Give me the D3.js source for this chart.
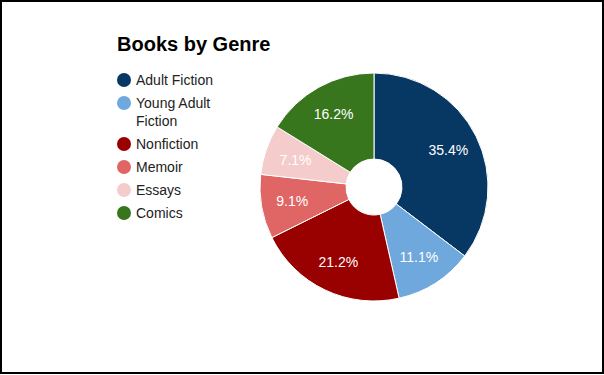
<html>
<head>
<script src="https://cdn.jsdelivr.net/npm/d3@7"></script>
<style>
body { margin: 0; background: #fff; }
svg text { font-family: Arial, "Liberation Sans", sans-serif; }
</style>
</head>
<body>
<svg id="chart" width="604" height="375"></svg>
<script>
var genres = ["Adult Fiction", "Young Adult Fiction", "Nonfiction", "Memoir", "Essays", "Comics"];
var counts = [35, 11, 21, 9, 7, 16];
var colors = ["#073763", "#6fa8dc", "#990000", "#e06666", "#f4cccc", "#38761d"];
// legend text is wrapped the way the original shows it
var legendLines = [["Adult Fiction"], ["Young Adult", "Fiction"], ["Nonfiction"], ["Memoir"], ["Essays"], ["Comics"]];

var svg = d3.select("#chart");

svg.append("rect")
    .attr("x", 1).attr("y", 1)
    .attr("width", 602).attr("height", 372)
    .attr("fill", "#fff")
    .attr("stroke", "#000")
    .attr("stroke-width", 2);

svg.append("text")
    .attr("x", 117).attr("y", 51)
    .attr("font-size", 20)
    .attr("font-weight", "bold")
    .attr("fill", "#000")
    .text("Books by Genre");

// legend
var color = d3.scaleOrdinal().domain(genres).range(colors);
var legend = svg.append("g").attr("transform", "translate(124,80)");
var rowY = 0;
legendLines.forEach(function(lines, i) {
  var row = legend.append("g").attr("transform", "translate(0," + rowY + ")");
  row.append("circle").attr("r", 7).attr("fill", color(genres[i]));
  var t = row.append("text")
      .attr("x", 12).attr("y", 5)
      .attr("font-size", 14)
      .attr("fill", "#222");
  lines.forEach(function(l, j) {
    t.append("tspan").attr("x", 12).attr("dy", j ? 18 : 0).text(l);
  });
  rowY += 23 + (lines.length - 1) * 18;
});

// donut
var cx = 374, cy = 187, outerR = 114, innerR = 28;
var total = d3.sum(counts);
var pie = d3.pie().sort(null).value(function(d) { return d; });
var arc = d3.arc().innerRadius(innerR).outerRadius(outerR);
var labelArc = d3.arc().innerRadius(83).outerRadius(83);

var g = svg.append("g").attr("transform", "translate(" + cx + "," + cy + ")");
var arcs = pie(counts);

g.selectAll("path")
    .data(arcs)
  .enter().append("path")
    .attr("d", arc)
    .attr("fill", function(d, i) { return color(genres[i]); })
    .attr("stroke", "#fff")
    .attr("stroke-width", 1);

g.selectAll("text.lbl")
    .data(arcs)
  .enter().append("text")
    .attr("class", "lbl")
    .attr("transform", function(d) { return "translate(" + labelArc.centroid(d) + ")"; })
    .attr("text-anchor", "middle")
    .attr("dy", "0.35em")
    .attr("font-size", 14)
    .attr("fill", "#fff")
    .text(function(d) { return d3.format(".1f")(d.value / total * 100) + "%"; });
</script>
</body>
</html>
